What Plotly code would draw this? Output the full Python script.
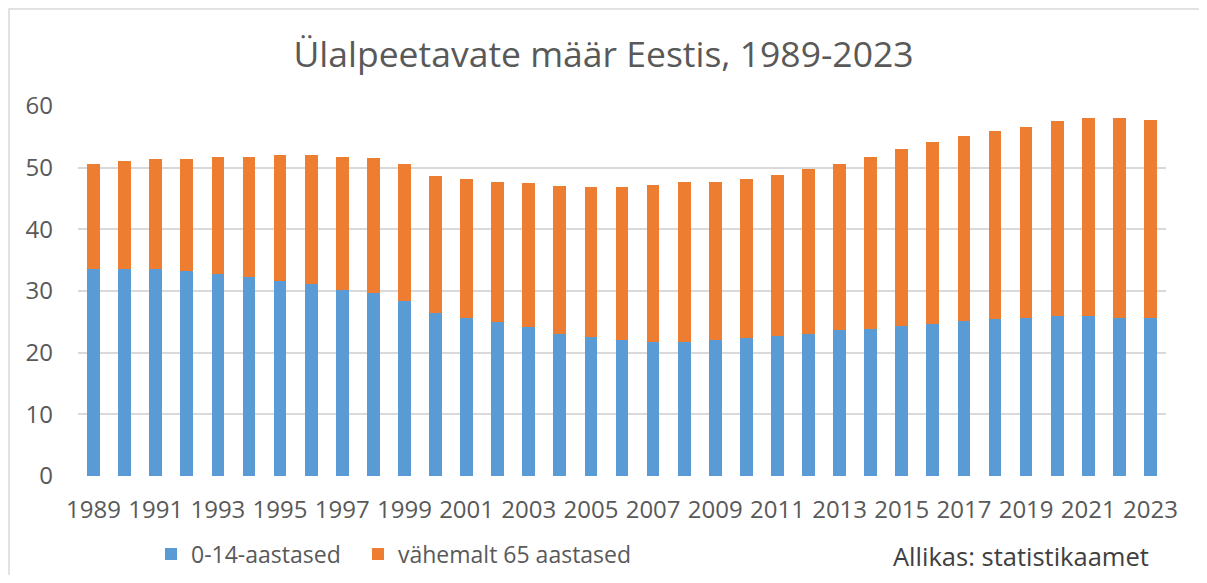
import plotly.graph_objects as go

years = list(range(1989, 2024))
children_0_14 = [33.6, 33.6, 33.6, 33.2, 32.7, 32.2, 31.6, 31.1, 30.2, 29.6,
                 28.4, 26.4, 25.7, 25.0, 24.1, 23.1, 22.5, 22.0, 21.8, 21.8,
                 22.0, 22.3, 22.7, 23.1, 23.6, 23.8, 24.3, 24.7, 25.2, 25.4,
                 25.6, 25.9, 25.9, 25.6, 25.6]
elderly_65 = [17.0, 17.5, 17.8, 18.2, 19.1, 19.6, 20.4, 20.9, 21.6, 22.0,
              22.2, 22.2, 22.5, 22.7, 23.4, 23.9, 24.3, 24.8, 25.4, 25.9,
              25.7, 25.9, 26.1, 26.7, 27.0, 28.0, 28.8, 29.4, 30.0, 30.5,
              31.0, 31.6, 32.2, 32.5, 32.1]
tick_years = list(range(1989, 2024, 2))
y_ticks = [0, 10, 20, 30, 40, 50, 60]

FONT = "Open Sans"
GREY = "#595959"

fig = go.Figure()
fig.add_trace(go.Bar(x=years, y=children_0_14, name="0-14-aastased",
                     marker=dict(color="#5B9BD5", line=dict(width=0)),
                     legend="legend"))
fig.add_trace(go.Bar(x=years, y=elderly_65, name="vähemalt 65 aastased",
                     marker=dict(color="#ED7D31", line=dict(width=0)),
                     legend="legend2"))

# page has an 8px body margin; work in page pixel coordinates
OFF = 8
PW, PH = 1207, 583
W, H = PW - 2 * OFF, PH - 2 * OFF
PL, PR, PT, PB = 78, 1166, 106, 476   # plot area in page pixels
L, T = PL - OFF, PT - OFF
R = W - (PR - OFF)
B = H - (PB - OFF)
pw, ph = PR - PL, PB - PT

def px(xp):
    return (xp - PL) / pw

def py(yp):
    return (PB - yp) / ph

legend_common = dict(orientation="h", xanchor="left", yanchor="middle",
                     font=dict(size=23, color=GREY, family=FONT), itemwidth=30,
                     bgcolor="rgba(0,0,0,0)")

fig.update_layout(
    barmode="stack",
    bargap=0.59,
    width=W, height=H,
    margin=dict(l=L, r=R, t=T, b=B, autoexpand=False),
    paper_bgcolor="white",
    plot_bgcolor="white",
    font=dict(family=FONT, color=GREY, size=24),
    title=dict(text="Ülalpeetavate määr Eestis, 1989-2023",
               x=0.5, xanchor="center", y=1 - (55 - OFF) / H, yanchor="middle",
               font=dict(family=FONT, size=35.5, color=GREY)),
    xaxis=dict(range=[1988.5, 2023.5], tickmode="array", tickvals=tick_years,
               ticktext=[str(y) for y in tick_years], showgrid=False,
               zeroline=False, showline=False, ticks="",
               ticklabelstandoff=17, tickfont=dict(size=24, color=GREY)),
    yaxis=dict(range=[0, 60], tickmode="array", tickvals=y_ticks,
               showgrid=True, gridcolor="#D9D9D9", gridwidth=1.5,
               zeroline=False, showline=False, ticks="",
               ticklabelstandoff=24, tickfont=dict(size=24, color=GREY)),
    legend=dict(x=px(151), y=py(554), **legend_common),
    legend2=dict(x=px(358), y=py(554), **legend_common),
    showlegend=True,
)

fig.add_annotation(text="Allikas: statistikaamet", xref="paper", yref="paper",
                   x=px(1151), y=py(556), xanchor="right", yanchor="middle",
                   showarrow=False, font=dict(size=25.5, color="#404040", family=FONT))

# outer chart border (partly cropped in the reference)
fig.add_shape(type="rect", xref="paper", yref="paper",
              x0=px(9), x1=px(1215), y0=py(600), y1=py(9),
              line=dict(color="#D9D9D9", width=1.5), fillcolor="rgba(0,0,0,0)",
              layer="below")

fig.write_html("out.html")
